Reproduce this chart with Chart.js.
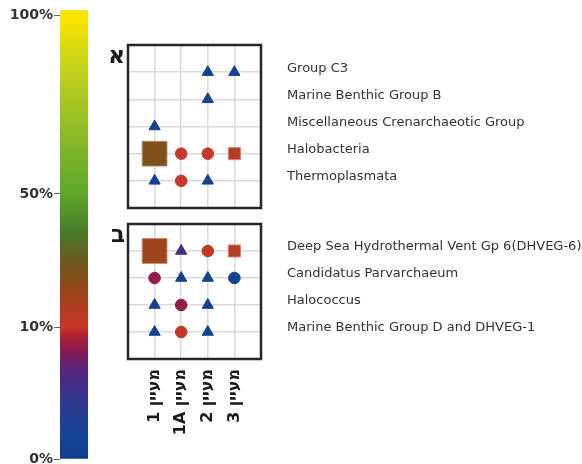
<!DOCTYPE html>
<html>
<head>
<meta charset="utf-8">
<script src="https://cdn.jsdelivr.net/npm/chart.js@4/dist/chart.umd.min.js"></script>
<style>
  html, body { margin: 0; padding: 0; background: #fff; overflow: hidden; }
  #wrap { position: relative; width: 582px; height: 464px; }
  canvas { position: absolute; }
</style>
</head>
<body>
<div id="wrap">
  <canvas id="scaleBar" width="100" height="480" style="left:0;top:0"></canvas>
  <canvas id="panelA" width="487" height="215" style="left:95px;top:0"></canvas>
  <canvas id="panelB" width="487" height="249" style="left:95px;top:215px"></canvas>
</div>
<script>
// colour scale (relative abundance)
const scaleTicks = [0, 10, 50, 100];
const scaleTickLabels = ['0%', '10%', '50%', '100%'];

// sampling sites (columns)
const sites = ['1', '1A', '2', '3'];

// panel א
const groupsA = ['Group C3', 'Marine Benthic Group B', 'Miscellaneous Crenarchaeotic Group', 'Halobacteria', 'Thermoplasmata'];
const pctA = [
  [null, null, 1, 1],
  [null, null, 1, null],
  [1, null, null, null],
  [26, 10, 10, 14],
  [1, 10, 1, null]
];
const shapeA = [
  ['', '', 'T', 'T'],
  ['', '', 'T', ''],
  ['T', '', '', ''],
  ['L', 'C', 'C', 'S'],
  ['T', 'C', 'T', '']
];

// panel ב
const groupsB = ['Deep Sea Hydrothermal Vent Gp 6(DHVEG-6)', 'Candidatus Parvarchaeum', 'Halococcus', 'Marine Benthic Group D and DHVEG-1'];
const pctB = [
  [20, 5.5, 11, 14],
  [8.5, 1, 1, 1.5],
  [1, 8.5, 1, null],
  [1, 11, 1, null]
];
const shapeB = [
  ['L', 'T', 'C', 'S'],
  ['C', 'T', 'T', 'C'],
  ['T', 'C', 'T', ''],
  ['T', 'C', 'T', '']
];

// where the scale ticks sit along the colour bar (fraction of its length)
const tickFrac = [0, 0.297, 0.597, 1];
const colorStops = [
  [0, '#0e3f8f'], [0.065, '#1a4494'], [0.133, '#33378f'], [0.178, '#4a2a85'],
  [0.207, '#5e2378'], [0.245, '#8a1a50'], [0.279, '#b5202f'], [0.297, '#c8372a'],
  [0.358, '#a8401f'], [0.396, '#8c4a1a'], [0.448, '#6a5a20'], [0.509, '#4a7a28'],
  [0.568, '#55982a'], [0.597, '#5ca82a'], [0.734, '#8dbb28'], [0.883, '#c4d31a'],
  [1, '#ffe600']
];
const markStyle = {
  T: { style: 'triangle', r: 6.5 },
  C: { style: 'circle', r: 5.8 },
  S: { style: 'rect', r: 8.5 },
  L: { style: 'rect', r: 17.5 }
};

function hexToRgb(h) {
  const n = parseInt(h.slice(1), 16);
  return [n >> 16 & 255, n >> 8 & 255, n & 255];
}

function pctToFrac(p) {
  for (let i = 1; i < scaleTicks.length; i++) {
    if (p <= scaleTicks[i]) {
      const t = (p - scaleTicks[i - 1]) / (scaleTicks[i] - scaleTicks[i - 1]);
      return tickFrac[i - 1] + t * (tickFrac[i] - tickFrac[i - 1]);
    }
  }
  return 1;
}

function colorAt(f, lighten) {
  let c = hexToRgb(colorStops[colorStops.length - 1][1]);
  for (let i = 1; i < colorStops.length; i++) {
    if (f <= colorStops[i][0]) {
      const a = colorStops[i - 1], b = colorStops[i];
      const t = (f - a[0]) / (b[0] - a[0]);
      const ca = hexToRgb(a[1]), cb = hexToRgb(b[1]);
      c = ca.map((v, k) => v + (cb[k] - v) * t);
      break;
    }
  }
  if (lighten) c = c.map(v => v + (255 - v) * lighten);
  return 'rgb(' + c.map(Math.round).join(',') + ')';
}

const font = 'DejaVu Sans';

// colour bar
new Chart(document.getElementById('scaleBar'), {
  type: 'bar',
  data: {
    labels: [''],
    datasets: [{
      data: [1.0113],
      barPercentage: 1,
      categoryPercentage: 1,
      borderWidth: 0,
      backgroundColor: (ctx) => {
        const chart = ctx.chart;
        if (!chart.chartArea) return '#888';
        const y = chart.scales.y;
        const g = chart.ctx.createLinearGradient(0, y.getPixelForValue(0), 0, y.getPixelForValue(1));
        colorStops.forEach(s => g.addColorStop(s[0], s[1]));
        return g;
      }
    }]
  },
  options: {
    responsive: false,
    animation: false,
    layout: { autoPadding: false, padding: { top: 10, bottom: 21, left: 0, right: 12 } },
    plugins: { legend: { display: false }, tooltip: { enabled: false } },
    scales: {
      x: { display: false },
      y: {
        min: 0,
        max: 1.0113,
        afterBuildTicks: (scale) => { scale.ticks = tickFrac.map(v => ({ value: v })); },
        afterFit: (scale) => { scale.width = 60; scale.paddingTop = 0; scale.paddingBottom = 0; },
        ticks: {
          autoSkip: false,
          padding: 1,
          color: '#333',
          font: { family: font, size: 14, weight: 'bold' },
          callback: (v, i) => scaleTickLabels[i]
        },
        grid: { drawOnChartArea: false, tickLength: 6, color: '#666', lineWidth: 1 },
        border: { display: false }
      }
    }
  }
});

// frame and panel letter
const panelFrame = {
  id: 'panelFrame',
  beforeDatasetsDraw(chart, args, opts) {
    const { ctx, chartArea: a } = chart;
    ctx.save();
    ctx.strokeStyle = '#262626';
    ctx.lineWidth = 2.5;
    ctx.strokeRect(a.left, a.top, a.right - a.left, a.bottom - a.top);
    ctx.fillStyle = '#1a1a1a';
    ctx.font = 'bold 23px ' + font;
    ctx.textAlign = 'right';
    ctx.textBaseline = 'alphabetic';
    ctx.fillText(opts.letter, a.left - 3, a.top + 18);
    ctx.restore();
  }
};

function siteLabel(i) {
  return '\u202B' + 'מעיין ' + sites[i] + '\u202C';
}

function makePanel(id, letter, groups, pct, shapes, padTop, xHeight, showSites) {
  const points = [];
  groups.forEach((g, r) => {
    sites.forEach((s, c) => {
      if (pct[r][c] == null) return;
      points.push({ x: c + 1, y: r + 1, pct: pct[r][c], shape: shapes[r][c] });
    });
  });
  return new Chart(document.getElementById(id), {
    type: 'scatter',
    data: {
      datasets: [{
        data: points,
        pointStyle: (ctx) => markStyle[ctx.raw.shape].style,
        pointRadius: (ctx) => markStyle[ctx.raw.shape].r,
        backgroundColor: (ctx) => colorAt(pctToFrac(ctx.raw.pct)),
        borderColor: (ctx) => colorAt(pctToFrac(ctx.raw.pct), ctx.raw.shape === 'T' || ctx.raw.shape === 'C' ? 0 : 0.35),
        borderWidth: 1
      }]
    },
    options: {
      responsive: false,
      animation: false,
      layout: { autoPadding: false, padding: { top: padTop, left: 33, right: 0, bottom: 0 } },
      plugins: { legend: { display: false }, tooltip: { enabled: false }, panelFrame: { letter } },
      scales: {
        x: {
          type: 'linear',
          min: 0,
          max: 5,
          afterFit: (scale) => { scale.height = xHeight; scale.paddingLeft = 0; scale.paddingRight = 0; },
          ticks: {
            display: showSites,
            stepSize: 1,
            autoSkip: false,
            minRotation: 90,
            maxRotation: 90,
            padding: 10,
            color: '#1a1a1a',
            font: { family: font, size: 16, weight: 'bold' },
            callback: (v) => (v >= 1 && v <= sites.length) ? siteLabel(v - 1) : ''
          },
          grid: { color: '#dadada', lineWidth: 1.5, drawTicks: false },
          border: { display: false }
        },
        y: {
          type: 'linear',
          position: 'right',
          reverse: true,
          min: 0,
          max: groups.length + 1,
          afterFit: (scale) => { scale.width = 321; scale.paddingTop = 0; scale.paddingBottom = 0; },
          ticks: {
            stepSize: 1,
            autoSkip: false,
            padding: 26,
            labelOffset: -4,
            color: '#333',
            font: { family: font, size: 13 },
            callback: (v) => groups[v - 1] || ''
          },
          grid: { color: '#dadada', lineWidth: 1.5, drawTicks: false },
          border: { display: false }
        }
      }
    },
    plugins: [panelFrame]
  });
}

makePanel('panelA', 'א', groupsA, pctA, shapeA, 45, 7, false);
makePanel('panelB', 'ב', groupsB, pctB, shapeB, 9, 105, true);
</script>
</body>
</html>
